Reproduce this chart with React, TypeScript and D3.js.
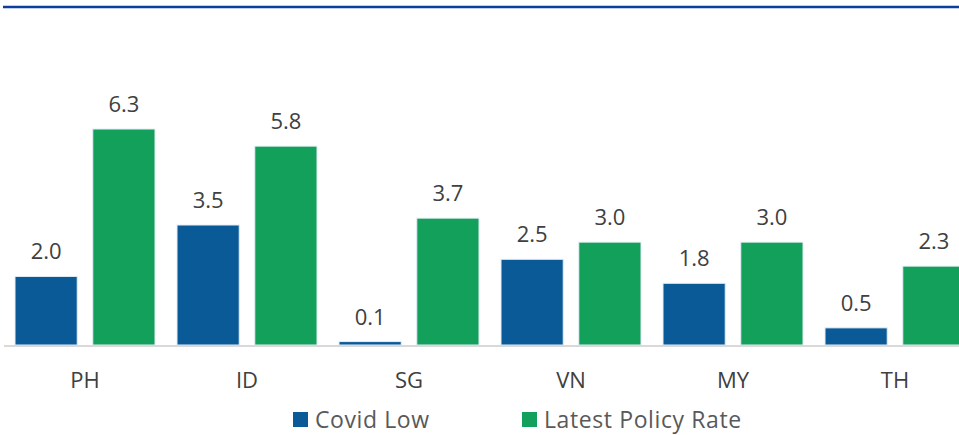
import React, { useEffect, useRef } from 'react';
import * as d3 from 'd3';

const categories = ['PH', 'ID', 'SG', 'VN', 'MY', 'TH'];
const covidLow = [2.0, 3.5, 0.1, 2.5, 1.8, 0.5];
const latestRate = [6.3, 5.8, 3.7, 3.0, 3.0, 2.3];
const seriesNames = ['Covid Low', 'Latest Policy Rate'];
const seriesColors = ['#0b5a98', '#12a05a'];

const App: React.FC = () => {
  const svgRef = useRef<SVGSVGElement | null>(null);

  useEffect(() => {
    if (!svgRef.current) return;
    const width = 959;
    const baseY = 345;
    const font = '"Open Sans", sans-serif';

    const svg = d3.select(svgRef.current);
    svg.selectAll('*').remove();

    // top rule
    svg.append('line')
      .attr('x1', 3).attr('x2', width)
      .attr('y1', 7).attr('y2', 7)
      .attr('stroke', '#0a3f9e')
      .attr('stroke-width', 2.5);

    const x = d3.scaleBand<string>()
      .domain(categories)
      .range([4, 4 + 162 * categories.length]);

    const inner = d3.scaleBand<number>()
      .domain([0, 1])
      .range([11, 151])
      .paddingInner(0.2);

    const y = d3.scaleLinear()
      .domain([0, 6.3])
      .range([baseY, 129]);

    const groups = svg.append('g')
      .selectAll('g')
      .data(categories)
      .join('g')
      .attr('transform', d => `translate(${x(d)},0)`);

    const series = [covidLow, latestRate];

    series.forEach((vals, si) => {
      groups.append('rect')
        .attr('x', inner(si)!)
        .attr('width', inner.bandwidth())
        .attr('y', (_, i) => y(vals[i]))
        .attr('height', (_, i) => baseY - y(vals[i]))
        .attr('fill', seriesColors[si])
        .attr('stroke', '#e4edf6')
        .attr('stroke-width', 1);

      groups.append('text')
        .attr('x', inner(si)! + inner.bandwidth() / 2)
        .attr('y', (_, i) => y(vals[i]) - 17)
        .attr('text-anchor', 'middle')
        .attr('font-family', font)
        .attr('font-size', 22)
        .attr('fill', '#404040')
        .text((_, i) => vals[i].toFixed(1));
    });

    // axis line
    svg.append('line')
      .attr('x1', 4).attr('x2', width)
      .attr('y1', baseY + 1).attr('y2', baseY + 1)
      .attr('stroke', '#d9d9d9')
      .attr('stroke-width', 2);

    groups.append('text')
      .attr('x', x.bandwidth() / 2)
      .attr('y', 388)
      .attr('text-anchor', 'middle')
      .attr('font-family', font)
      .attr('font-size', 22)
      .attr('fill', '#404040')
      .text(d => d);

    // legend
    const legendX = [293, 522];
    seriesNames.forEach((name, i) => {
      svg.append('rect')
        .attr('x', legendX[i]).attr('y', 412)
        .attr('width', 15).attr('height', 15)
        .attr('fill', seriesColors[i]);
      svg.append('text')
        .attr('x', legendX[i] + 22)
        .attr('y', 428)
        .attr('font-family', font)
        .attr('font-size', 23)
        .attr('letter-spacing', 0.6)
        .attr('fill', '#595959')
        .text(name);
    });
  }, []);

  return (
    <svg ref={svgRef} width={959} height={435}
      style={{ position: 'absolute', left: 0, top: 0, background: '#fff' }} />
  );
};

export default App;
